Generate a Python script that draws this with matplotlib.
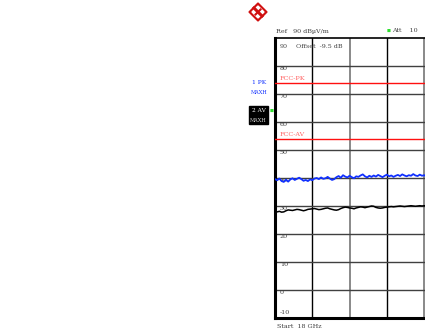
import numpy as np
import matplotlib.pyplot as plt
from matplotlib.patches import Polygon, Rectangle

# sweep settings
f_start = 18.0     # GHz
f_stop = 26.5      # GHz
ref_level = 90     # dBuV/m
db_per_div = 10
offset_db = -9.5
att_db = 10

# limit lines
fcc_pk = 74
fcc_av = 54

# trace 1: peak, max hold (dBuV/m)
trace_pk = [39.6, 39.2, 39.8, 38.9, 38.6, 39.4, 38.7, 39.5, 39.9, 39.3,
            39.7, 40.1, 39.6, 39.0, 39.3, 38.9, 39.5, 39.2, 39.8, 40.0,
            39.6, 40.2, 39.7, 39.9, 40.4, 39.8, 39.3, 39.6, 40.3, 40.7,
            40.1, 41.0, 40.5, 40.2, 40.8, 40.3, 39.9, 40.6, 40.4, 40.9,
            41.3, 40.6, 40.2, 40.8, 40.4, 40.9, 40.5, 41.1, 40.7, 40.3,
            40.8, 41.2, 40.6, 40.9, 40.4, 40.8, 41.1, 40.7, 41.3, 40.9,
            40.6, 41.0, 40.8, 41.4, 40.9, 40.7, 41.2, 40.8, 41.0, 40.6,
            41.1]
# trace 2: average, max hold (dBuV/m)
trace_av = [28.0, 27.9, 28.1, 27.8, 27.9, 28.3, 28.6, 28.5, 28.4, 28.6,
            28.8, 28.7, 28.5, 28.3, 28.5, 28.8, 28.9, 29.0, 29.1, 28.9,
            28.7, 28.8, 29.0, 29.2, 29.3, 29.0, 28.8, 28.6, 28.5, 28.7,
            29.1, 29.4, 29.6, 29.5, 29.3, 29.2, 29.0, 29.3, 29.5, 29.7,
            29.6, 29.4, 29.6, 29.8, 30.0, 29.9, 29.5, 29.3, 29.2, 29.3,
            29.5, 29.6, 29.7, 29.8, 29.7, 29.8, 29.9, 30.0, 29.9, 29.8,
            29.9, 30.0, 30.1, 30.0, 29.9, 30.0, 30.1, 30.0, 30.1, 30.0,
            30.1]
trace_stop = 21.5  # GHz, last sample shown

W, H = 425, 336
fig = plt.figure(figsize=(W / 100, H / 100), dpi=100)
fig.patch.set_facecolor('white')

FONT = 'DejaVu Serif'
FS = 4.6
GREY = '#404040'

# screen coords (pixels) -> figure fraction
def fx(px):
    return px / W

def fy(py):
    return 1 - py / H

# graticule: 10 x 10 divisions, right part runs off the screen
left, top, bottom, div_w = 275, 38, 318, 37.3
ax = fig.add_axes([fx(left), fy(bottom), 10 * div_w / W, (bottom - top) / H])
ax.set_xlim(f_start, f_stop)
ax.set_ylim(ref_level - 10 * db_per_div, ref_level)
ax.set_xticks([])
ax.set_yticks([])
ax.spines['left'].set_linewidth(2.2)
ax.spines['bottom'].set_linewidth(2.2)
ax.spines['top'].set_linewidth(1.2)

f_div = (f_stop - f_start) / 10
for k in range(1, 10):
    ax.axvline(f_start + k * f_div, color='black' if k % 2 else '#808080',
               lw=1.0 if k % 2 else 1.3, zorder=1)
levels = np.arange(ref_level - 10 * db_per_div, ref_level + 1, db_per_div)
for v in levels[1:-1]:
    ax.axhline(v, color='#404040', lw=1.0, zorder=1)
for v in levels:
    ax.text(f_start + 0.11, np.clip(v - 1.0, -7.9, 87.0), f'{v:d}',
            fontsize=FS, family=FONT, color=GREY,
            va='center', ha='left', zorder=2)

# limit lines
ax.axhline(fcc_pk, color='#ff1010', lw=1.0, zorder=3)
ax.axhline(fcc_av, color='#ff1010', lw=1.0, zorder=3)
ax.text(f_start + 0.11, fcc_pk + 0.5, 'FCC-PK', fontsize=FS,
        family=FONT, color='#ff6060', va='bottom', zorder=3)
ax.text(f_start + 0.11, fcc_av + 0.5, 'FCC-AV', fontsize=FS,
        family=FONT, color='#ff6060', va='bottom', zorder=3)

# traces
freq = np.linspace(f_start, trace_stop, len(trace_pk))
ax.plot(freq, trace_pk, color='#1030ff', lw=1.3, zorder=4)
ax.plot(freq, trace_av, color='black', lw=1.1, zorder=4)

ax.text(f_start + 0.48, 87.0, f'Offset  {offset_db} dB', fontsize=FS,
        family=FONT, color=GREY, va='center', zorder=2)

# header / footer text
txt = dict(fontsize=FS, family=FONT, color=GREY, va='center')
fig.text(fx(276), fy(31), f'Ref   {ref_level} dBµV/m', **txt)
fig.text(fx(392), fy(31), f'Att    {att_db}', **txt)
fig.text(fx(388.5), fy(31), '\u25a0', fontsize=3, color='#30e030',
         va='center', ha='center')
fig.text(fx(277), fy(326), f'Start  {f_start:.0f} GHz', **txt)

# trace labels on the left
fig.text(fx(259), fy(83), '1 PK', fontsize=4.2, family=FONT,
         color='#1030ff', ha='center', va='center')
fig.text(fx(259), fy(92), 'MAXH', fontsize=3.6, family=FONT,
         color='#1030ff', ha='center', va='center')
fig.patches.append(Rectangle((fx(249), fy(124)), fx(19), 18 / H,
                             transform=fig.transFigure, color='black'))
fig.text(fx(258.5), fy(111), '2 AV', fontsize=4.2, family=FONT,
         color='white', ha='center', va='center')
fig.text(fx(258.5), fy(120), 'MAXH', fontsize=3.6, family=FONT,
         color='#d0d0d0', ha='center', va='center')
fig.text(fx(271.5), fy(111), '\u25a0', fontsize=3, color='#30e030',
         va='center', ha='center')

# logo: red diamond with white cut-outs
cx, cy, r = 258, 12, 9
fig.patches.append(Polygon([(fx(cx), fy(cy - r)), (fx(cx + r), fy(cy)),
                            (fx(cx), fy(cy + r)), (fx(cx - r), fy(cy))],
                           closed=True, transform=fig.transFigure,
                           color='#d01010'))
fig.patches.append(Polygon([(fx(cx), fy(cy - r + 3)), (fx(cx + r - 3), fy(cy)),
                            (fx(cx), fy(cy + r - 3)), (fx(cx - r + 3), fy(cy))],
                           closed=True, transform=fig.transFigure,
                           color='white'))
fig.lines.append(plt.Line2D([fx(cx - 4), fx(cx + 4)], [fy(cy - 4), fy(cy + 4)],
                            transform=fig.transFigure, color='#d01010', lw=2.2))
fig.lines.append(plt.Line2D([fx(cx - 2.5), fx(cx + 2.5)], [fy(cy + 2.5), fy(cy - 2.5)],
                            transform=fig.transFigure, color='#d01010', lw=1.5))

fig.savefig('out.png', dpi=100, facecolor='white')
